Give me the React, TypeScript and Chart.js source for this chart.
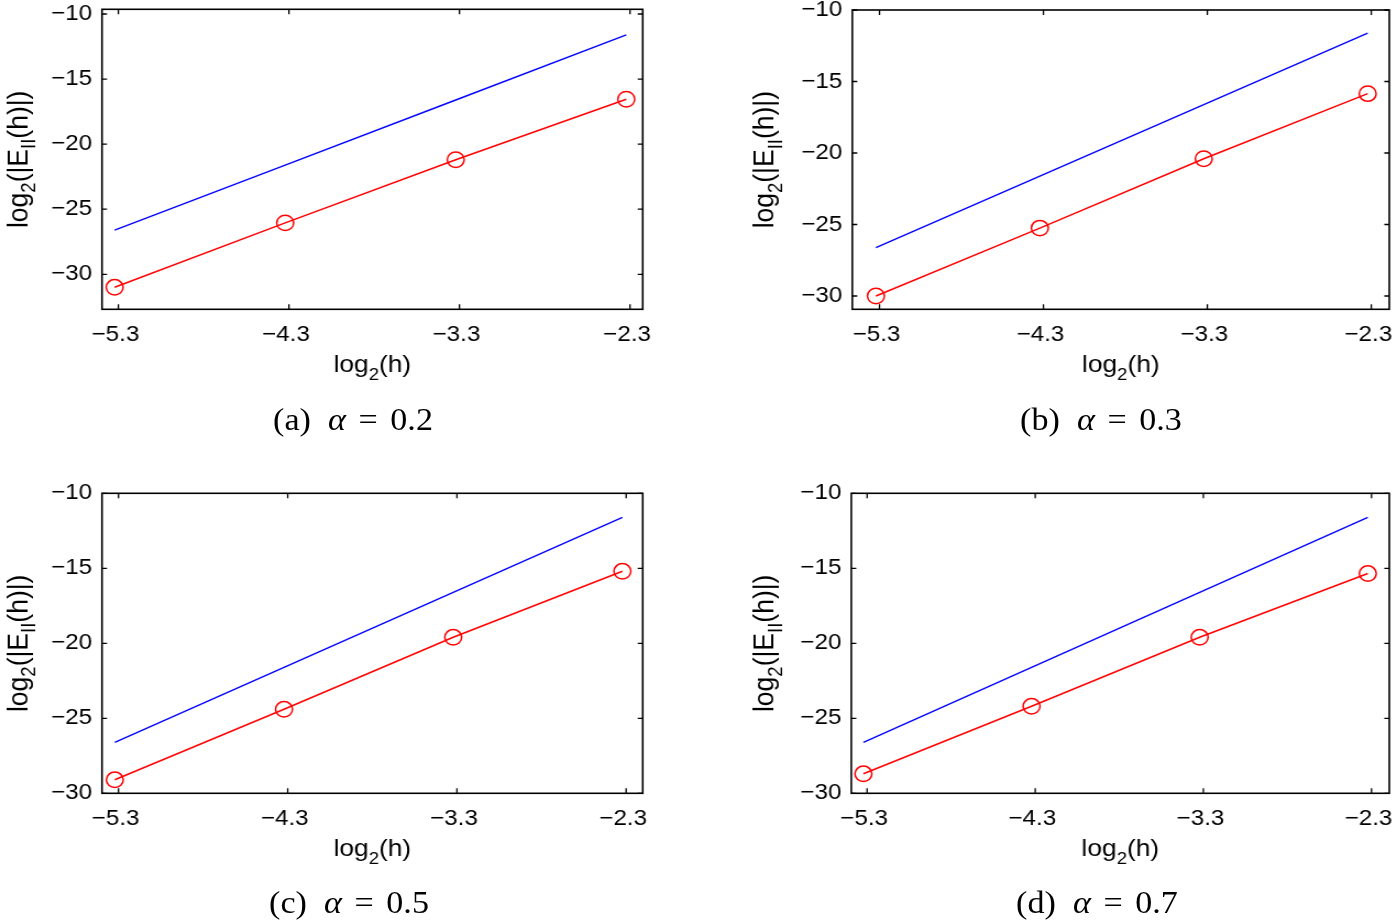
import React, { useEffect, useRef } from "react";
import { Chart, registerables } from "chart.js";

Chart.register(...registerables);

// ---------------- data ----------------
const log2h = [-5.3219, -4.3219, -3.3219, -2.3219];
const refSlope5 = [-26.61, -21.61, -16.61, -11.61];
const errAlpha02 = [-31.0, -26.05, -21.2, -16.55];
const errAlpha03 = [-30.0, -25.25, -20.4, -15.85];
const errAlpha05 = [-29.1, -24.4, -19.6, -15.2];
const errAlpha07 = [-28.7, -24.2, -19.6, -15.35];
const xTickValues = [-5.3, -4.3, -3.3, -2.3];
const yTickValues = [-30, -25, -20, -15, -10];
const panelLetters = ["a", "b", "c", "d"];
const alphaLabels = ["0.2", "0.3", "0.5", "0.7"];

// ---------------- layout (final pixel coordinates) ----------------
const SX = 1.1; // horizontal stretch of the original figure
const SANS = '"Liberation Sans", Arial, Helvetica, sans-serif';
const SERIF = '"Liberation Serif", "Times New Roman", serif';
const TICK_FONT = 22;
const XTITLE_FONT = 24;
const YTITLE_FONT = 26.5;
const CAPTION_FONT = 31;
const Y_AXIS_W = 60;
const X_AXIS_H = 40;

type Layout = {
  cx: number; cy: number; cw: number; ch: number;
  l: number; r: number; t: number; b: number;
  xr: [number, number]; yr: [number, number];
  yTitleX: number; capX: number; capY: number;
};

const layouts: Layout[] = [
  { cx: 0, cy: 0, cw: 660, ch: 400, l: 102, r: 642.7, t: 9.3, b: 309.3, xr: [-5.396, -2.2255], yr: [-32.69, -9.64], yTitleX: 27, capX: 353, capY: 420 },
  { cx: 740, cy: 0, cw: 654, ch: 400, l: 852, r: 1389, t: 10, b: 309.3, xr: [-5.466, -2.19], yr: [-30.93, -10], yTitleX: 773, capX: 1101, capY: 420 },
  { cx: 0, cy: 470, cw: 660, ch: 400, l: 102, r: 642.7, t: 493.3, b: 793.3, xr: [-5.3975, -2.202], yr: [-30, -10], yTitleX: 27, capX: 349, capY: 903 },
  { cx: 740, cy: 470, cw: 654, ch: 400, l: 851, r: 1389, t: 493.3, b: 793.3, xr: [-5.394, -2.194], yr: [-30, -10], yTitleX: 773, capX: 1097, capY: 903 },
];

const panelErrors = [errAlpha02, errAlpha03, errAlpha05, errAlpha07];

const fmt = (v: number) => {
  const s = Math.abs(v) % 1 === 0 ? String(Math.abs(v)) : Math.abs(v).toFixed(1);
  return (v < 0 ? "\u2212" : "") + s;
};

type Seg = { t: string; sub?: boolean };
const xTitleSegs: Seg[] = [{ t: "log" }, { t: "2", sub: true }, { t: "(h)" }];
const yTitleSegs: Seg[] = [
  { t: "log" }, { t: "2", sub: true }, { t: "(|E" }, { t: "II", sub: true }, { t: "(h)|)" },
];

function drawRich(ctx: CanvasRenderingContext2D, segs: Seg[], cx: number, base: number, size: number) {
  const subSize = size * 0.7;
  let total = 0;
  const widths: number[] = [];
  for (const s of segs) {
    ctx.font = `${s.sub ? subSize : size}px ${SANS}`;
    const w = ctx.measureText(s.t).width;
    widths.push(w);
    total += w;
  }
  let x = cx - total / 2;
  ctx.textAlign = "left";
  ctx.textBaseline = "alphabetic";
  segs.forEach((s, i) => {
    ctx.font = `${s.sub ? subSize : size}px ${SANS}`;
    ctx.fillText(s.t, x, base + (s.sub ? size * 0.3 : 0));
    x += widths[i];
  });
}

function Panel({ idx }: { idx: number }) {
  const ref = useRef<HTMLCanvasElement | null>(null);
  const L = layouts[idx];
  const cLeft = L.cx / SX;
  const cW = Math.round(L.cw / SX);
  const areaL = (L.l - L.cx) / SX;
  const areaR = (L.r - L.cx) / SX;
  const areaT = L.t - L.cy;
  const areaB = L.b - L.cy;

  useEffect(() => {
    if (!ref.current) return;
    const framePlugin = {
      id: "frame" + idx,
      afterDraw(chart: any) {
        const ctx: CanvasRenderingContext2D = chart.ctx;
        const a = chart.chartArea;
        const xs = chart.scales.x;
        const ys = chart.scales.y;
        ctx.save();
        ctx.strokeStyle = "#000";
        ctx.lineWidth = 1.6;
        ctx.strokeRect(a.left, a.top, a.right - a.left, a.bottom - a.top);
        ctx.lineWidth = 1.3;
        const tl = 5;
        ctx.beginPath();
        for (const v of xTickValues) {
          const px = xs.getPixelForValue(v);
          ctx.moveTo(px, a.bottom); ctx.lineTo(px, a.bottom - tl);
          ctx.moveTo(px, a.top); ctx.lineTo(px, a.top + tl);
        }
        for (const v of yTickValues) {
          const py = ys.getPixelForValue(v);
          ctx.moveTo(a.left, py); ctx.lineTo(a.left + tl / SX, py);
          ctx.moveTo(a.right, py); ctx.lineTo(a.right - tl / SX, py);
        }
        ctx.stroke();
        ctx.fillStyle = "#000";
        drawRich(ctx, xTitleSegs, (a.left + a.right) / 2, a.bottom + 63, XTITLE_FONT);
        ctx.translate((L.yTitleX - L.cx) / SX, (a.top + a.bottom) / 2);
        ctx.rotate(-Math.PI / 2);
        drawRich(ctx, yTitleSegs, 0, 0, YTITLE_FONT);
        ctx.restore();
      },
    };
    const chart = new Chart(ref.current, {
      type: "scatter",
      data: {
        datasets: [
          {
            label: "reference slope",
            data: log2h.map((x, i) => ({ x, y: refSlope5[i] })),
            showLine: true,
            borderColor: "#0000ff",
            borderWidth: 1.4,
            pointRadius: 0,
            pointHoverRadius: 0,
          },
          {
            label: "error",
            data: log2h.map((x, i) => ({ x, y: panelErrors[idx][i] })),
            showLine: true,
            borderColor: "#ff0000",
            backgroundColor: "rgba(0,0,0,0)",
            borderWidth: 1.5,
            pointStyle: "circle",
            pointRadius: 7.7,
            pointBorderWidth: 1.5,
            pointBorderColor: "#ff0000",
            pointBackgroundColor: "rgba(0,0,0,0)",
            clip: false as any,
          },
        ],
      },
      options: {
        responsive: false,
        animation: false,
        devicePixelRatio: 1,
        events: [],
        layout: {
          autoPadding: false,
          padding: {
            left: areaL - Y_AXIS_W,
            right: cW - areaR,
            top: areaT,
            bottom: L.ch - areaB - X_AXIS_H,
          },
        },
        plugins: { legend: { display: false }, tooltip: { enabled: false }, title: { display: false } },
        scales: {
          x: {
            type: "linear",
            min: L.xr[0],
            max: L.xr[1],
            afterBuildTicks: (s: any) => { s.ticks = xTickValues.map((v) => ({ value: v })); },
            afterFit: (s: any) => { s.height = X_AXIS_H; s.paddingLeft = 0; s.paddingRight = 0; },
            grid: { display: false, drawTicks: false },
            border: { display: false },
            ticks: {
              callback: (v: any) => fmt(Number(v)),
              font: { family: SANS, size: TICK_FONT },
              color: "#000",
              padding: 12,
              labelOffset: -2.7,
              maxRotation: 0,
              autoSkip: false,
            },
          },
          y: {
            type: "linear",
            min: L.yr[0],
            max: L.yr[1],
            afterBuildTicks: (s: any) => { s.ticks = yTickValues.map((v) => ({ value: v })); },
            afterFit: (s: any) => { s.width = Y_AXIS_W; s.paddingTop = 0; s.paddingBottom = 0; },
            grid: { display: false, drawTicks: false },
            border: { display: false },
            ticks: {
              callback: (v: any) => fmt(Number(v)),
              font: { family: SANS, size: TICK_FONT },
              color: "#000",
              padding: 9,
              autoSkip: false,
            },
          },
        },
      } as any,
      plugins: [framePlugin],
    });
    return () => chart.destroy();
  }, [idx]);

  return (
    <canvas
      ref={ref}
      width={cW}
      height={L.ch}
      style={{ position: "absolute", left: cLeft, top: L.cy, width: cW, height: L.ch }}
    />
  );
}

function Caption({ idx }: { idx: number }) {
  const L = layouts[idx];
  const w = 400;
  const fs = CAPTION_FONT;
  return (
    <div
      style={{
        position: "absolute",
        left: L.capX / SX - w / 2,
        top: L.capY - fs * 0.6,
        width: w,
        textAlign: "center",
        fontFamily: SERIF,
        fontSize: fs,
        lineHeight: `${fs * 1.2}px`,
        color: "#000",
        whiteSpace: "pre",
      }}
    >
      {`(${panelLetters[idx]})  `}
      <i>α</i>
      <span style={{ margin: "0 0.12em" }}>{" = "}</span>
      {alphaLabels[idx]}
    </div>
  );
}

export default function App() {
  return (
    <div style={{ position: "absolute", left: 0, top: 0, width: 1394, height: 921, overflow: "hidden", background: "#fff" }}>
      <div
        style={{
          position: "absolute",
          left: 0,
          top: 0,
          width: 1394 / SX,
          height: 921,
          transform: `scaleX(${SX})`,
          transformOrigin: "0 0",
        }}
      >
        {[0, 1, 2, 3].map((i) => (
          <Panel key={"p" + i} idx={i} />
        ))}
        {[0, 1, 2, 3].map((i) => (
          <Caption key={"c" + i} idx={i} />
        ))}
      </div>
    </div>
  );
}
